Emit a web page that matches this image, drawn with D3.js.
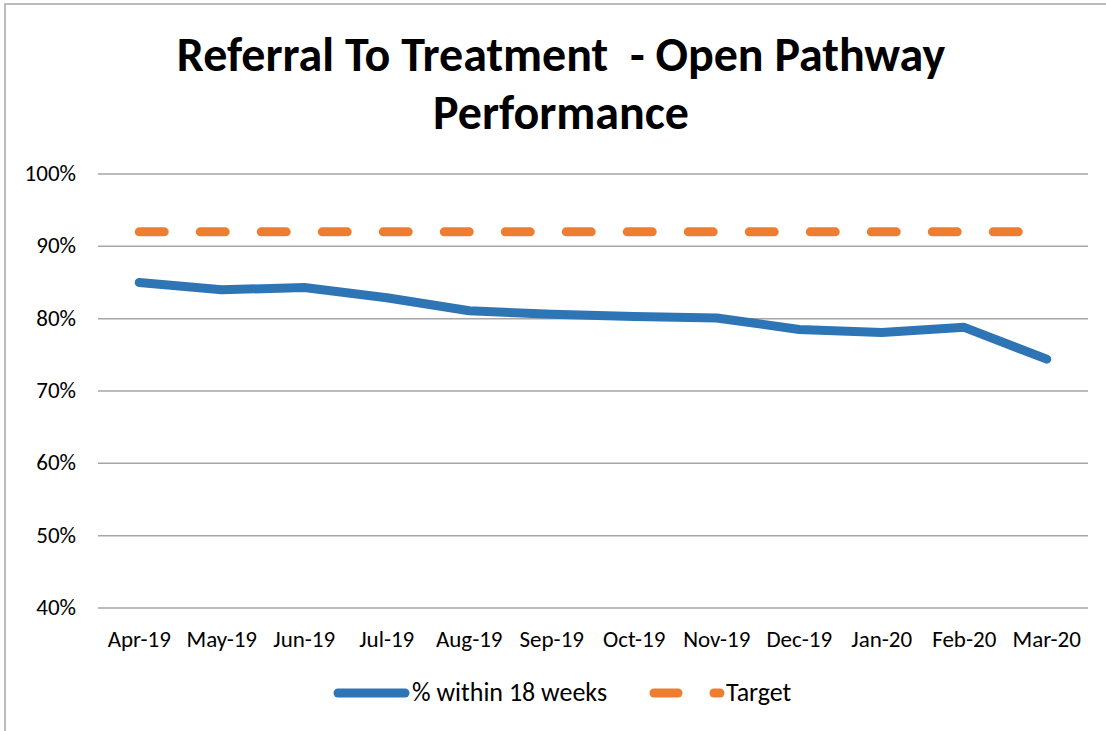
<!DOCTYPE html>
<html>
<head>
    <title>Referral To Treatment - Open Pathway Performance</title>
    <style type="text/css">
        body { margin: 0; background: #fff; }
        svg text { font-family: Calibri, Carlito, Lato, sans-serif; fill: #000; }
        .grid line { stroke: #a6a6a6; stroke-width: 1.5; }
    </style>
</head>
<body>
    <script src="https://d3js.org/d3.v7.min.js" type="text/javascript"></script>
    <script type="text/javascript">

        var months = ['Apr-19', 'May-19', 'Jun-19', 'Jul-19', 'Aug-19', 'Sep-19',
                      'Oct-19', 'Nov-19', 'Dec-19', 'Jan-20', 'Feb-20', 'Mar-20'];
        var within18 = [85.0, 84.0, 84.3, 82.9, 81.1, 80.6, 80.3, 80.1, 78.5, 78.1, 78.8, 74.4];
        var target = [92, 92, 92, 92, 92, 92, 92, 92, 92, 92, 92, 92];
        var yTicks = [40, 50, 60, 70, 80, 90, 100];

        var W = 1106, H = 731;
        var svg = d3.select('body').append('svg')
            .attr('width', W).attr('height', H);

        // chart border
        svg.append('rect')
            .attr('x', 5).attr('y', 4)
            .attr('width', W + 10).attr('height', H + 10)
            .attr('fill', '#fff').attr('stroke', '#a6a6a6').attr('stroke-width', 1.5);

        var x = d3.scaleBand().domain(months).range([98, 1088]);
        var y = d3.scaleLinear().domain([40, 100]).range([608, 174]);

        // title
        var title = svg.append('text')
            .attr('text-anchor', 'middle')
            .attr('font-size', 48).attr('font-weight', 'bold')
            .style('white-space', 'pre');
        title.append('tspan').attr('x', 561).attr('y', 71).text('Referral To Treatment  - Open Pathway');
        title.append('tspan').attr('x', 561).attr('y', 129).text('Performance');

        // gridlines
        svg.append('g').attr('class', 'grid')
            .selectAll('line').data(yTicks).enter().append('line')
            .attr('x1', 98).attr('x2', 1088)
            .attr('y1', function (d) { return y(d); })
            .attr('y2', function (d) { return y(d); });

        // y axis labels
        svg.append('g').selectAll('text').data(yTicks).enter().append('text')
            .attr('x', 76)
            .attr('y', function (d) { return y(d) + 7; })
            .attr('text-anchor', 'end')
            .attr('font-size', 23)
            .text(function (d) { return d + '%'; });

        // x axis labels
        svg.append('g').selectAll('text').data(months).enter().append('text')
            .attr('x', function (d) { return x(d) + x.bandwidth() / 2; })
            .attr('y', 647)
            .attr('text-anchor', 'middle')
            .attr('font-size', 23)
            .text(function (d) { return d; });

        var line = d3.line()
            .x(function (d, i) { return x(months[i]) + x.bandwidth() / 2; })
            .y(function (d) { return y(d); });

        svg.append('path')
            .datum(target)
            .attr('d', line)
            .attr('fill', 'none')
            .attr('stroke', '#ed7d31')
            .attr('stroke-width', 9)
            .attr('stroke-linecap', 'round')
            .attr('stroke-dasharray', '25 36');

        svg.append('path')
            .datum(within18)
            .attr('d', line)
            .attr('fill', 'none')
            .attr('stroke', '#2e75b6')
            .attr('stroke-width', 9)
            .attr('stroke-linecap', 'round')
            .attr('stroke-linejoin', 'round');

        // legend
        var lg = svg.append('g');
        lg.append('line')
            .attr('x1', 338).attr('x2', 405).attr('y1', 693).attr('y2', 693)
            .attr('stroke', '#2e75b6').attr('stroke-width', 9).attr('stroke-linecap', 'round');
        lg.append('text')
            .attr('x', 412).attr('y', 701).attr('font-size', 26)
            .text('% within 18 weeks');
        lg.append('line')
            .attr('x1', 654).attr('x2', 678).attr('y1', 693).attr('y2', 693)
            .attr('stroke', '#ed7d31').attr('stroke-width', 9).attr('stroke-linecap', 'round');
        lg.append('line')
            .attr('x1', 714).attr('x2', 720).attr('y1', 693).attr('y2', 693)
            .attr('stroke', '#ed7d31').attr('stroke-width', 9).attr('stroke-linecap', 'round');
        lg.append('text')
            .attr('x', 726).attr('y', 701).attr('font-size', 26)
            .text('Target');
    </script>
</body>
</html>
